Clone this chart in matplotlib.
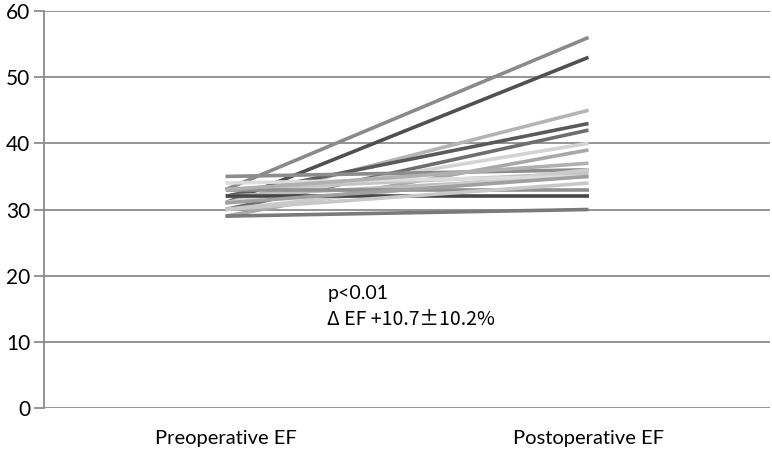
import matplotlib.pyplot as plt

categories = ['Preoperative EF', 'Postoperative EF']
pre_ef = [33, 31, 31, 32, 30, 31, 29, 35, 33, 32, 30, 33, 32, 29, 34, 30, 33, 31]
post_ef = [56, 53, 45, 43, 42, 40, 39, 36, 35.5, 35, 36, 33, 32, 30, 35, 34, 37, 35]
shades = ['#8a8a8a', '#505050', '#b4b4b4', '#5a5a5a', '#6e6e6e', '#d4d4d4', '#a8a8a8',
          '#8c8c8c', '#c4c4c4', '#bcbcbc', '#cccccc', '#909090', '#474747', '#7a7a7a',
          '#dcdcdc', '#c8c8c8', '#b0b0b0', '#a0a0a0']
yticks = [0, 10, 20, 30, 40, 50, 60]

plt.rcParams['font.family'] = ['Lato', 'DejaVu Sans']

fig = plt.figure(figsize=(7.72, 4.55), dpi=100)
ax = fig.add_axes([44 / 772, 1 - 408 / 455, 726 / 772, 397 / 455])

for y in yticks:
    ax.axhline(y, color='#8c8c8c', lw=1.3, zorder=0)

for a, b, c in zip(pre_ef, post_ef, shades):
    ax.plot([0, 1], [a, b], color=c, lw=2.6, solid_capstyle='butt')

ax.set_xlim(-0.5, 1.5)
ax.set_ylim(0, 60)
ax.set_yticks(yticks)
ax.set_xticks([0, 1])
ax.set_xticklabels(categories, fontsize=14.5)
ax.tick_params(axis='x', length=0, pad=16)
ax.tick_params(axis='y', length=7, color='#8c8c8c', width=1.3, labelsize=15, pad=3)
for s in ['top', 'right', 'bottom']:
    ax.spines[s].set_visible(False)
ax.spines['left'].set_color('#8c8c8c')
ax.spines['left'].set_linewidth(1.3)

ax.text(0.28, 16.4, 'p<0.01', fontsize=14)
ax.text(0.28, 12.5, '\u0394 EF +10.7\u00b110.2%', fontsize=14,
        family=['Noto Sans CJK JP', 'DejaVu Sans'])

fig.savefig('out.png', dpi=100)
